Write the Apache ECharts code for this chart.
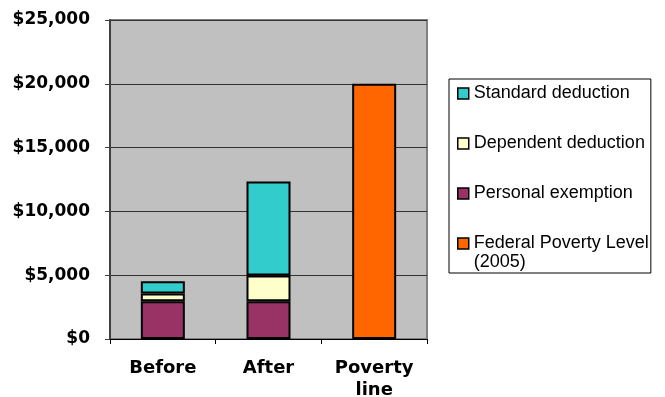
<!DOCTYPE html>
<html>
<head>
<meta charset="utf-8">
<script src="https://cdn.jsdelivr.net/npm/echarts@6/dist/echarts.min.js"></script>
<style>
html,body{margin:0;padding:0;background:#fff;}
#chart{width:665px;height:397px;}
</style>
</head>
<body>
<div id="chart"></div>
<script>
var categories = ['Before', 'After', 'Poverty\nline'];
var personalExemption = [2950, 2950, null];
var dependentDeduction = [620, 2030, null];
var standardDeduction = [960, 7370, null];
var povertyLevel = [null, null, 20000];
var legendNames = ['Standard deduction', 'Dependent deduction', 'Personal exemption', 'Federal Poverty Level\n(2005)'];
var yMin = 0, yMax = 25000, yStep = 5000;

var chart = echarts.init(document.getElementById('chart'), null, {renderer: 'canvas'});

function barSeries(name, data, color) {
  return {
    name: name,
    type: 'bar',
    stack: 'total',
    data: data,
    barWidth: 44,
    itemStyle: {color: color, borderColor: '#000', borderWidth: 2},
    emphasis: {disabled: true}
  };
}

var option = {
  animation: false,
  backgroundColor: '#fff',
  grid: {
    left: 110, right: 238, top: 20, bottom: 58,
    containLabel: false,
    outerBoundsMode: 'none',
    show: true, backgroundColor: '#C0C0C0', borderColor: '#808080', borderWidth: 2
  },
  legend: {
    orient: 'vertical',
    left: 449, top: 79,
    padding: [5, 2, 1, 8],
    itemGap: 12,
    itemWidth: 11, itemHeight: 11,
    icon: 'rect',
    backgroundColor: '#fff',
    borderColor: '#000', borderWidth: 1,
    itemStyle: {borderColor: '#000', borderWidth: 1.5},
    textStyle: {
      fontFamily: 'Liberation Sans, Arial, sans-serif',
      fontSize: 18, color: '#000', lineHeight: 19,
      rich: {a: {}}
    },
    data: [
      {name: legendNames[0]},
      {name: legendNames[1], textStyle: {padding: [19, 0, 19, 0]}},
      {name: legendNames[2]},
      {name: legendNames[3], textStyle: {padding: [19, 0, 0, 0]}}
    ]
  },
  xAxis: {
    type: 'category',
    data: categories,
    axisLine: {lineStyle: {color: '#000', width: 1}},
    axisTick: {show: true, length: 5, lineStyle: {color: '#000'}},
    axisLabel: {
      margin: 18,
      fontFamily: 'DejaVu Sans, sans-serif',
      fontWeight: 'bold', fontSize: 18, color: '#000', lineHeight: 22
    }
  },
  yAxis: {
    type: 'value',
    min: yMin, max: yMax, interval: yStep,
    axisLine: {show: true, lineStyle: {color: '#404040', width: 2}},
    axisTick: {show: true, length: 5, lineStyle: {color: '#404040'}},
    splitLine: {show: true, lineStyle: {color: '#333', width: 1}},
    axisLabel: {
      margin: 20,
      fontFamily: 'DejaVu Sans, sans-serif',
      fontWeight: 'bold', fontSize: 17, color: '#000',
      formatter: function (v) { return '$' + v.toLocaleString('en-US'); }
    }
  },
  series: [
    barSeries(legendNames[2], personalExemption, '#993366'),
    barSeries(legendNames[1], dependentDeduction, '#FFFFCC'),
    barSeries(legendNames[0], standardDeduction, '#33CCCC'),
    barSeries(legendNames[3], povertyLevel, '#FF6600')
  ]
};
chart.setOption(option);
</script>
</body>
</html>
